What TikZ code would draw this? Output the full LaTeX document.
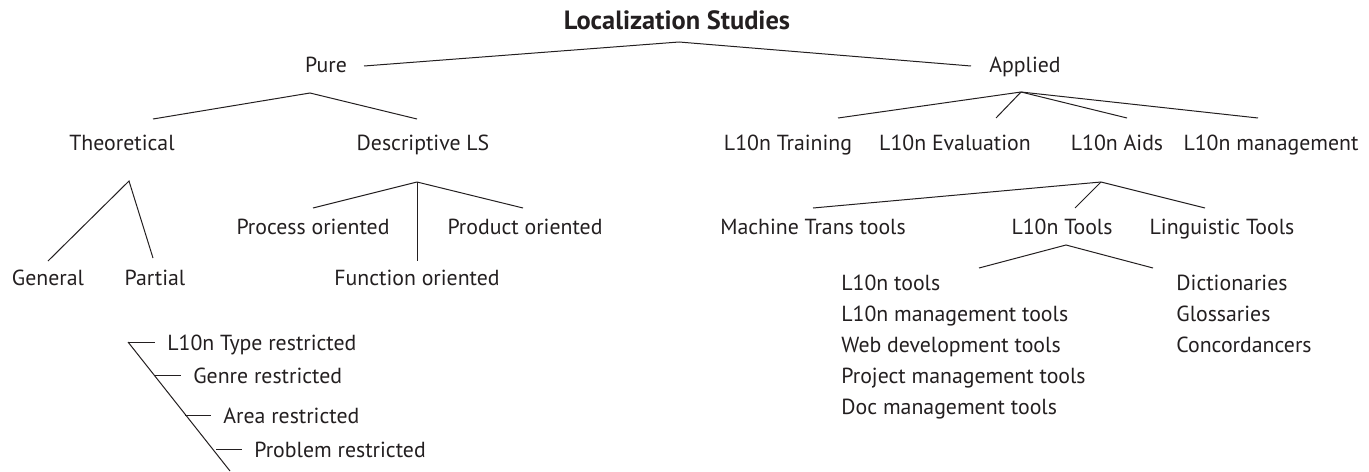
\documentclass[tikz,border=0pt]{standalone}
\usepackage{fontspec}
\setmainfont{PT Sans}
\definecolor{ink}{HTML}{231F20}
\tikzset{
  lbl/.style={anchor=base, inner sep=0pt, text=ink, font=\fontsize{10.9}{12}\selectfont},
  lst/.style={lbl, anchor=base west},
  branch/.style={draw=ink, line width=0.5pt},
}
\begin{document}
\begin{tikzpicture}[x=0.5pt, y=-0.5pt]
  \useasboundingbox (0,0) rectangle (1369,471);
  \node[lbl, font=\fontsize{13.2}{14}\selectfont\bfseries] (root) at (677,29) {Localization Studies};
  \node[lbl] (pure) at (326,72) {Pure};
  \node[lbl] (applied) at (1025,72) {Applied};
  \node[lbl] (theo) at (122,150) {Theoretical};
  \node[lbl] (desc) at (423,150) {Descriptive LS};
  \node[lbl] (train) at (788,150) {L10n Training};
  \node[lbl] (eval) at (955,150) {L10n Evaluation};
  \node[lbl] (aids) at (1117,150) {L10n Aids};
  \node[lbl] (mgmt) at (1271,150) {L10n management};
  \node[lbl] (proc) at (313,234) {Process oriented};
  \node[lbl] (prod) at (525,234) {Product oriented};
  \node[lbl] (mt) at (813,234) {Machine Trans tools};
  \node[lbl] (ltools) at (1062,234) {L10n Tools};
  \node[lbl] (ling) at (1222,234) {Linguistic Tools};
  \node[lbl] (general) at (48,285) {General};
  \node[lbl] (partial) at (155,285) {Partial};
  \node[lbl] (func) at (417,285) {Function oriented};
  \foreach \t [count=\i] in {L10n tools, L10n management tools, Web development tools, Project management tools, Doc management tools}
    \node[lst] (tool\i) at (841, {290+31*(\i-1)}) {\t};
  \foreach \t [count=\i] in {Dictionaries, Glossaries, Concordancers}
    \node[lst] (lingt\i) at (1176, {290+31*(\i-1)}) {\t};
  \node[lst] (typer) at (167,350) {L10n Type restricted};
  \node[lst] (genre) at (193,383) {Genre restricted};
  \node[lst] (area) at (223,423) {Area restricted};
  \node[lst] (probl) at (254,457) {Problem restricted};

  \coordinate (root-fork) at (679,42);
  \coordinate (pure-in) at (364,66);
  \coordinate (applied-in) at (971,66);
  \draw[branch] (pure-in) -- (root-fork) -- (applied-in);

  \coordinate (pure-fork) at (310,93);
  \coordinate (theo-in) at (153,119);
  \coordinate (desc-in) at (417,119);
  \draw[branch] (theo-in) -- (pure-fork) -- (desc-in);

  \coordinate (applied-fork) at (1021,92);
  \coordinate (train-in) at (838,118);
  \coordinate (eval-in) at (996,118);
  \coordinate (aids-in) at (1127,118);
  \coordinate (mgmt-in) at (1258,118);
  \foreach \c in {train-in, eval-in, aids-in, mgmt-in}
    \draw[branch] (applied-fork) -- (\c);

  \coordinate (theo-fork) at (129,181);
  \coordinate (general-in) at (48,261);
  \coordinate (partial-in) at (153,258);
  \draw[branch] (general-in) -- (theo-fork) -- (partial-in);

  \coordinate (desc-fork) at (417,182);
  \coordinate (proc-in) at (313,208);
  \coordinate (prod-in) at (523,208);
  \coordinate (func-in) at (417,261);
  \foreach \c in {proc-in, prod-in, func-in}
    \draw[branch] (desc-fork) -- (\c);

  \coordinate (aids-fork) at (1101,182);
  \coordinate (mt-in) at (813,208);
  \coordinate (ltools-in) at (1075,208);
  \coordinate (ling-in) at (1205,208);
  \foreach \c in {mt-in, ltools-in, ling-in}
    \draw[branch] (aids-fork) -- (\c);

  \coordinate (ltools-fork) at (1066,245);
  \coordinate (tool-in) at (979,268);
  \coordinate (lingt-in) at (1153,268);
  \draw[branch] (tool-in) -- (ltools-fork) -- (lingt-in);

  \coordinate (restr-top) at (128,342);
  \coordinate (restr-end) at (230,471);
  \draw[branch] (restr-top) -- (restr-end);
  \foreach \n in {typer, genre, area, probl}
    \draw[branch] ([shift={(-38,-8)}]\n.base west) -- ([shift={(-12,-8)}]\n.base west);
\end{tikzpicture}
\end{document}
